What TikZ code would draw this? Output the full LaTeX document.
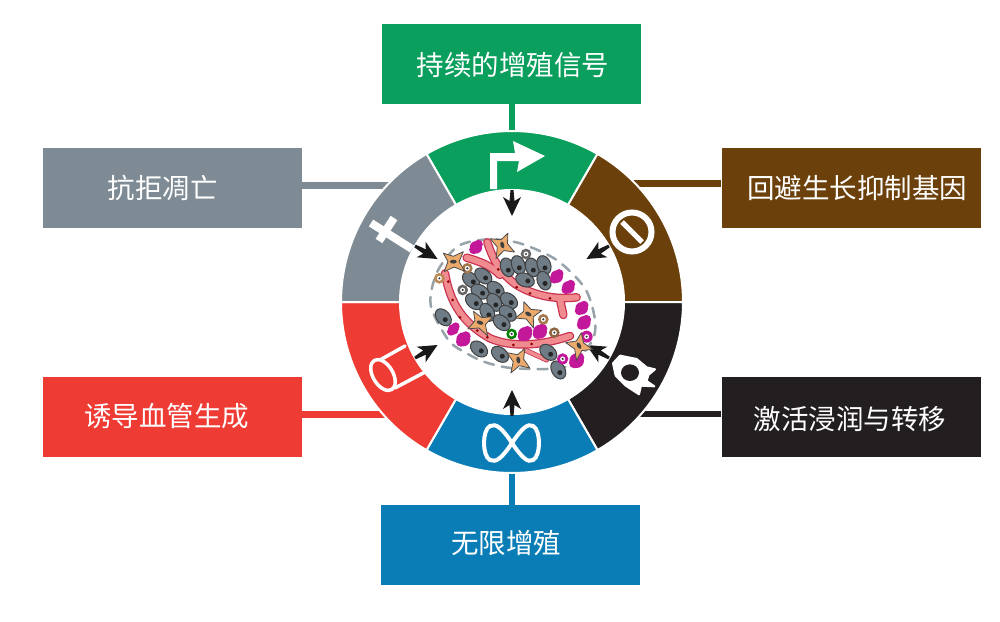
\documentclass[tikz,border=0pt]{standalone}
\usepackage{fontspec}
\setmainfont{Noto Sans CJK SC}
\usetikzlibrary{calc}
\definecolor{cgreen}{HTML}{0A9F5C}
\definecolor{cgray}{HTML}{7E8B94}
\definecolor{cbrown}{HTML}{6C400B}
\definecolor{cred}{HTML}{EE3B33}
\definecolor{cblack}{HTML}{231F20}
\definecolor{cblue}{HTML}{0B7DB6}
\definecolor{cellgray}{HTML}{6F7C86}
\definecolor{cmag}{HTML}{C4189A}
\definecolor{corange}{HTML}{EBAA6C}
\definecolor{vesseldark}{HTML}{C9304E}
\definecolor{vessellight}{HTML}{F08C90}
\tikzset{
  box/.style={minimum width=259pt,minimum height=80pt,inner sep=0pt,draw=none},
  lab/.style={text=white,font=\fontsize{27.5pt}{30pt}\selectfont,inner sep=0pt},
  link/.style={line width=6.5pt},
  iconline/.style={draw=white,line width=3.5pt,line cap=round,line join=round},
  vessel/.style={line cap=round,line join=round}
}
\newcommand{\ringseg}[3]{\filldraw[fill=#1,draw=white,line width=2pt] (512,302) ++(#2:171) arc (#2:#3:171) -- ($(512,302)+(#3:112)$) arc (#3:#2:112) -- cycle;}
\newcommand{\towards}[2]{\fill[black!90,shift={(512,302)},rotate=#1] (#2,0) -- ++(19,9) -- ++(-4,-6.5) -- ++(11,-1) -- ++(0,-3) -- ++(-11,-1) -- ++(4,-6.5) -- cycle;}
\newcommand{\gcell}[3]{\begin{scope}[shift={(#1,#2)},rotate=#3]
 \filldraw[fill=cellgray,draw=black!75,line width=1pt] (0,0) ellipse [x radius=29,y radius=20];
 \fill[black!85] (9,0) circle [radius=7.5];
 \end{scope}}
\newcommand{\magblob}[3]{\fill[cmag] (#1,#2) circle [radius=#3*1.1] ++(7,-9) circle [radius=#3*.8] ++(-14,16) circle [radius=#3*.8];}
\newcommand{\rcell}[3]{\filldraw[fill=white,draw=#3,line width=2.5pt] (#1,#2) circle [radius=12]; \fill[black!80] (#1,#2) circle [radius=3.5];}
\newcommand{\scell}[3]{\begin{scope}[shift={(#1,#2)},rotate=#3,scale=1.15]
 \filldraw[fill=corange,draw=black!70,line width=.8pt,line join=round] (-26,-22) -- (0,-14) -- (26,-26) -- (15,0) -- (30,25) -- (2,14) -- (-24,26) -- (-14,0) -- cycle;
 \fill[black!75] (0,0) ellipse [x radius=9,y radius=5];
 \end{scope}}
\begin{document}
\begin{tikzpicture}[x=1pt,y=1pt,yscale=-1]
\useasboundingbox (0,0) rectangle (1000,621);
\fill[white] (0,0) rectangle (1000,621);
% boxes
\node[box,fill=cgreen] (bgreen) at (511.5,64) {};
\node[box,fill=cgray] (bgray) at (172.5,188) {};
\node[box,fill=cbrown] (bbrown) at (851,188) {};
\node[box,fill=cred] (bred) at (172.5,417) {};
\node[box,fill=cblack] (bblack) at (851,417) {};
\node[box,fill=cblue] (bblue) at (510,545) {};
% labels
\node[lab] (tgreen) at (513,65) {持续的增殖信号};
\node[lab] (tgray) at (162.5,188) {抗拒凋亡};
\node[lab] (tbrown) at (857,188) {回避生长抑制基因};
\node[lab] (tred) at (166.5,416) {诱导血管生成};
\node[lab] (tblack) at (850,419) {激活浸润与转移};
\node[lab] (tblue) at (506,543) {无限增殖};
% connectors
\coordinate (jgreen) at (512,140);
\coordinate (jgray) at (395,185.5);
\coordinate (jbrown) at (630,183.5);
\coordinate (jred) at (395,414.5);
\coordinate (jblack) at (630,414);
\coordinate (jblue) at (512,465);
\draw[link,cgreen] (bgreen.south -| jgreen) -- (jgreen);
\draw[link,cgray] (bgray.east |- jgray) -- (jgray);
\draw[link,cbrown] (bbrown.west |- jbrown) -- (jbrown);
\draw[link,cred] (bred.east |- jred) -- (jred);
\draw[link,cblack] (bblack.west |- jblack) -- (jblack);
\draw[link,cblue] (bblue.north -| jblue) -- (jblue);
% ring
\ringseg{cgreen}{240}{300}
\ringseg{cbrown}{300}{360}
\ringseg{cblack}{0}{60}
\ringseg{cblue}{60}{120}
\ringseg{cred}{120}{180}
\ringseg{cgray}{180}{240}
% green icon
\fill[white,line join=round] (490,189) -- (490,153) -- (515,153) -- (513,141) -- (545,156) -- (517,172) -- (519,161) -- (497,161) -- (497,189) -- cycle;
% cross
\draw[white,line width=8pt] (371,223) -- (412,249);
\draw[white,line width=8pt] (379,241) -- (394,218);
% no-entry
\draw[white,line width=6pt] (632,232) circle [radius=19.5];
\draw[white,line width=5pt] (622,222) -- (642,242);
% tube
\draw[iconline,rotate around={59:(383,375)}] (383,375) ellipse [x radius=17,y radius=10];
\draw[iconline] (380,360) -- (405,346);
\draw[iconline] (395,388) -- (427,371);
% rocket
\begin{scope}[shift={(605,345)},scale=.3333]
\filldraw[fill=white,draw=white,line width=2pt,line join=round] (24,55) -- (45,32) -- (95,42) -- (125,67) -- (150,73) -- (130,90) -- (125,108) -- (148,124) -- (108,122) -- (102,148) -- (62,122) -- (32,92) -- cycle;
\fill[cblack] (75,83) ellipse [x radius=27,y radius=25];
\end{scope}
% infinity
\draw[white,line width=4pt] (512,443) .. controls (522,428) and (528,423) .. (533,426) .. controls (541,430) and (541,456) .. (533,460) .. controls (528,463) and (522,458) .. (512,443) .. controls (502,428) and (496,423) .. (490,426) .. controls (482,430) and (482,456) .. (490,460) .. controls (496,463) and (502,458) .. (512,443) -- cycle;
% arrows to the centre
\towards{270}{86}
\towards{330}{86}
\towards{30}{86}
\towards{90}{88}
\towards{150}{86}
\towards{210}{86}
% tumour
\begin{scope}[shift={(400,210)},scale=.3333]
\draw[cgray!80,line width=2.5pt,dash pattern=on 10pt off 8pt,line cap=round]
 plot[smooth cycle] coordinates {(92,285) (112,185) (175,108) (265,88) (360,100) (470,150) (555,235) (585,330) (575,395) (500,470) (345,475) (260,458) (200,430) (145,390)};
\foreach \w/\c in {8.5/vesseldark,6/vessellight}{
 \draw[vessel,\c,line width=\w pt] (262,97) .. controls (280,150) and (300,190) .. (350,225) .. controls (400,255) and (460,270) .. (530,262);
 \draw[vessel,\c,line width=\w pt] (200,143) .. controls (240,155) and (270,165) .. (300,195);
 \draw[vessel,\c,line width=\w pt] (490,315) -- (480,268);
 \draw[vessel,\c,line width=\w pt] (135,190) .. controls (150,280) and (190,340) .. (270,385) .. controls (340,415) and (430,405) .. (510,378);
 \draw[vessel,\c,line width=.6*\w pt] (375,420) -- (440,450);
}
\foreach \a/\b in {145/215,158/270,180/322,232/362,262/382,340/405,395/402,350/232,390/250,450/265,295/178}{\fill[red!55!black] (\a,\b) circle [radius=4.5];}
\foreach \a/\b/\r in {322/172/70,355/165/70,397/172/70,432/165/70,375/210/20,432/212/70,213/210/40,250/198/40,287/238/40,240/245/30,222/275/40,283/277/60,327/272/40,262/307/60,323/310/40,305/338/40,130/322/50,237/417/40,300/433/40,445/427/40,475/480/60}{\gcell{\a}{\b}{\r}}
\magblob{228}{112}{17}\magblob{470}{200}{17}\magblob{505}{232}{17}\magblob{545}{295}{17}\magblob{552}{338}{18}\magblob{160}{358}{15}\magblob{190}{388}{19}\magblob{375}{372}{19}\magblob{420}{365}{19}\magblob{530}{452}{20}
\fill[cmag] (560,380) circle [radius=18]; \fill[cmag] (488,447) circle [radius=17];
\rcell{560}{380}{cmag}\rcell{488}{447}{cmag}
\rcell{378}{132}{black!60}\rcell{188}{240}{black!60}\rcell{118}{205}{corange!80!black}\rcell{202}{175}{corange!70!black}\rcell{430}{328}{corange!70!black}\rcell{463}{368}{corange!60!black}\rcell{335}{372}{green!50!black}
\scell{160}{155}{0}\scell{307}{105}{75}\scell{385}{312}{30}\scell{240}{338}{20}\scell{537}{407}{60}\scell{355}{450}{80}
\end{scope}
\end{tikzpicture}
\end{document}
